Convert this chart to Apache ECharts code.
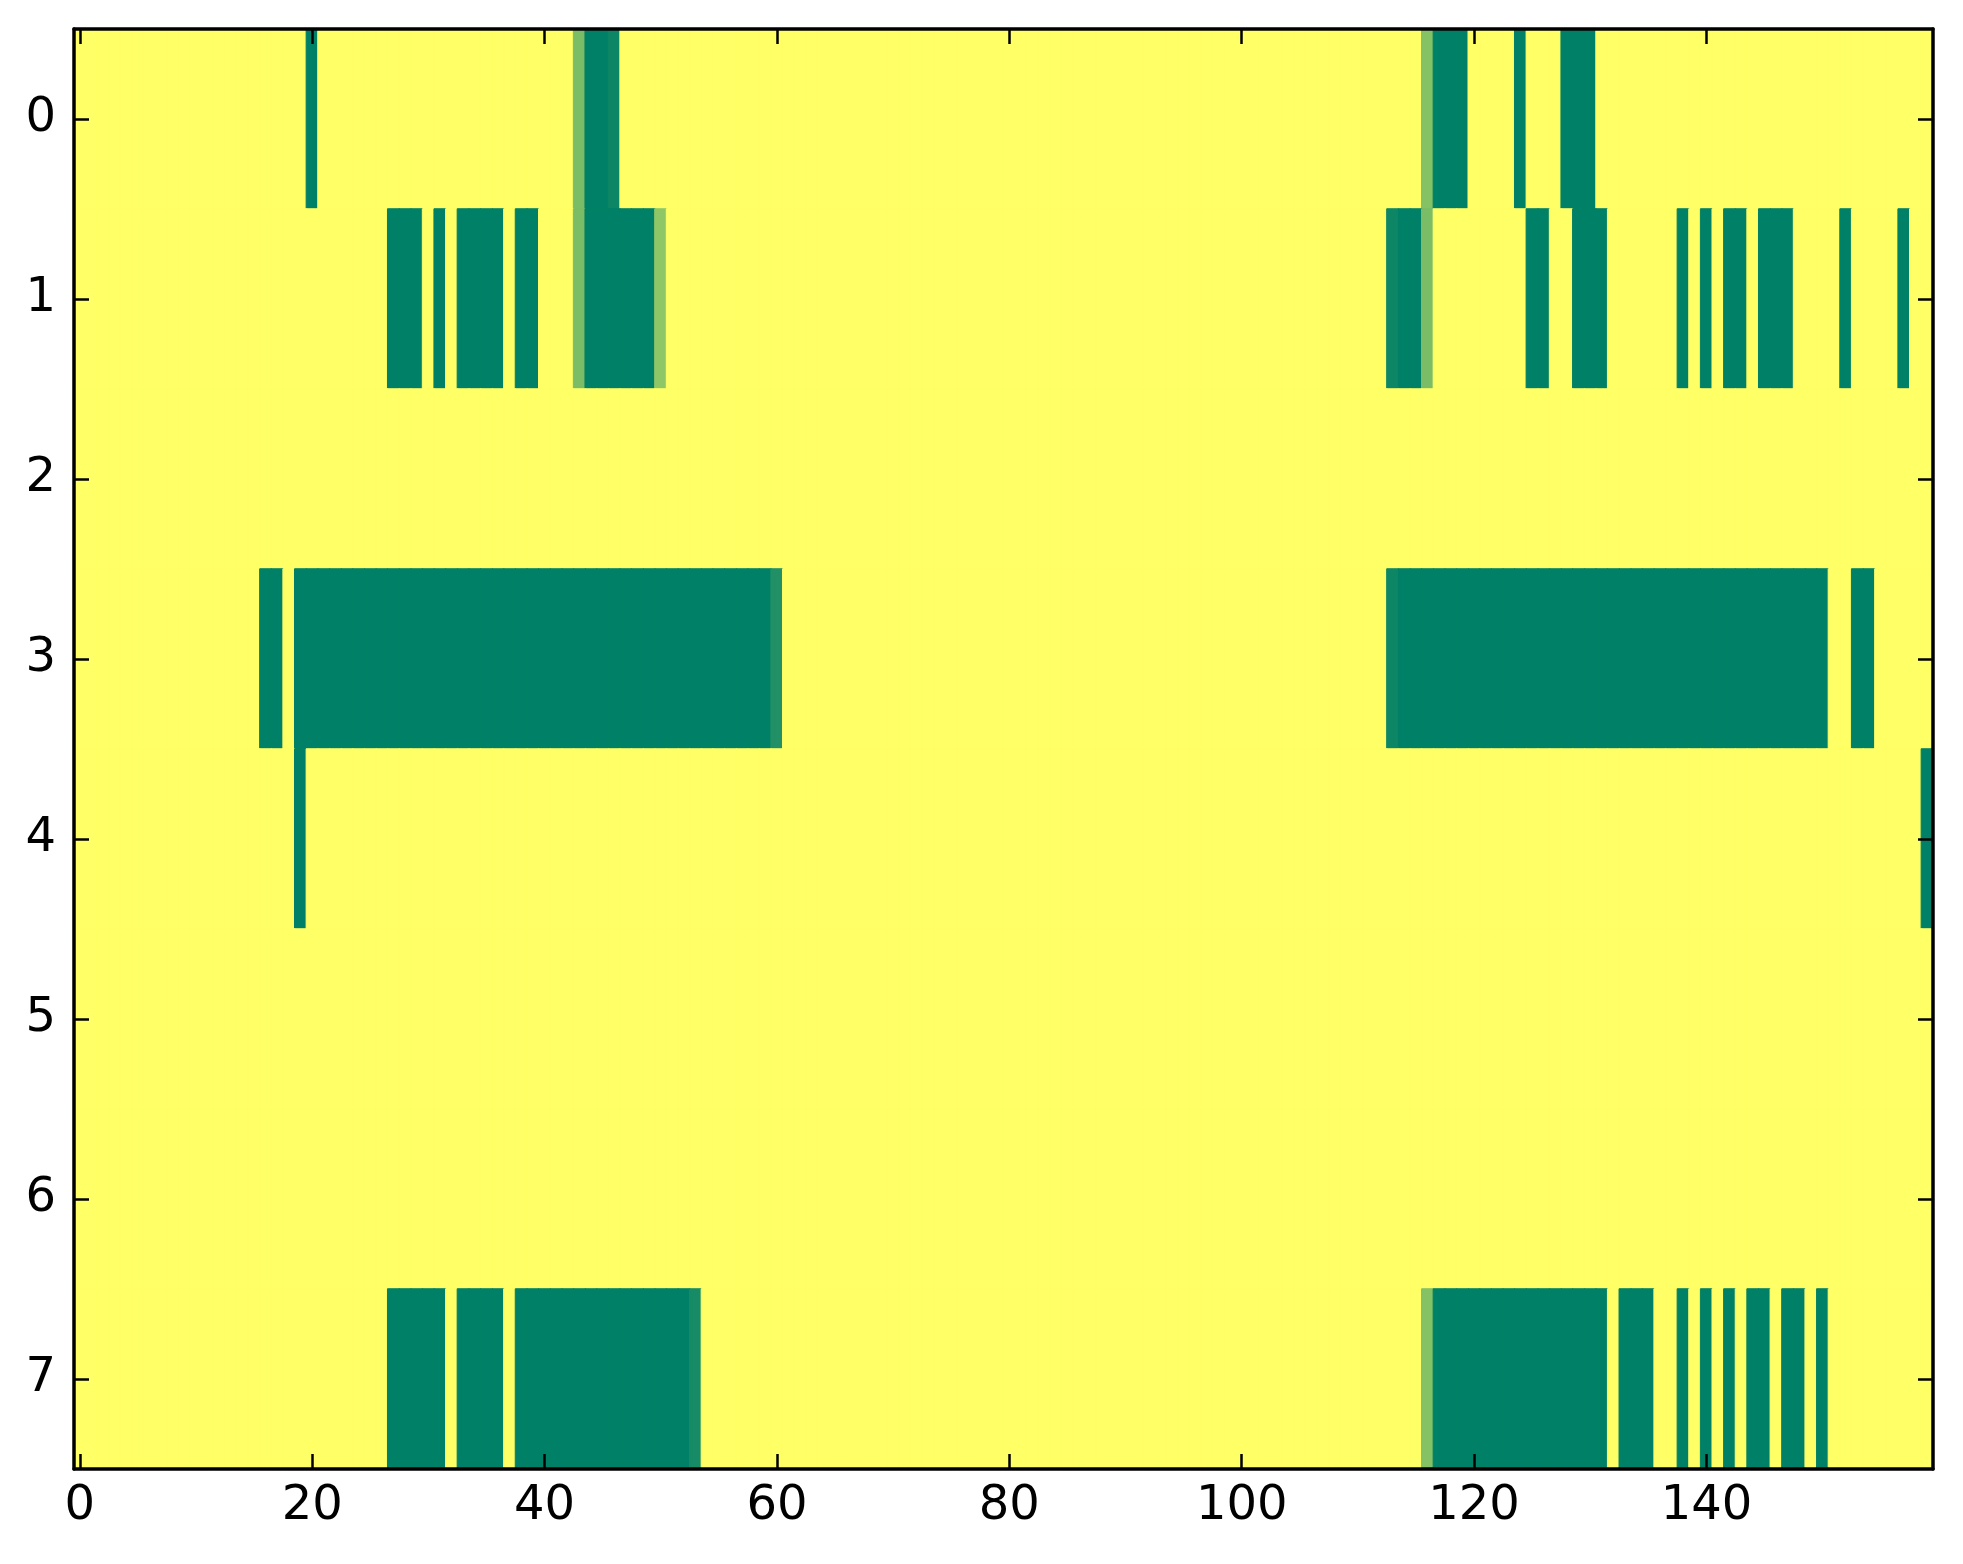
<!DOCTYPE html>
<html>
<head>
<meta charset="utf-8">
<title>heatmap</title>
<script src="https://cdn.jsdelivr.net/npm/echarts@6/dist/echarts.min.js"></script>
<style>
  html, body { margin: 0; padding: 0; background: #fff; }
  #main { width: 1963px; height: 1564px; }
</style>
</head>
<body>
<div id="main"></div>
<script>
// columns 0..159, rows 0..7
var colLabels = [];
for (var i = 0; i < 160; i++) colLabels.push(String(i));
var rowLabels = ['0', '1', '2', '3', '4', '5', '6', '7'];

// cells that are not 1, per row: [firstCol, lastCol, value]
var baseValue = 1;
var row0 = [[20, 20, 0], [43, 43, 0.48], [44, 45, 0], [46, 46, 0.05], [116, 116, 0.52], [117, 119, 0], [124, 124, 0], [128, 130, 0]];
var row1 = [[27, 29, 0], [31, 31, 0], [33, 36, 0], [38, 39, 0], [43, 43, 0.48], [44, 49, 0], [50, 50, 0.56],
            [113, 113, 0.05], [114, 115, 0], [116, 116, 0.48], [125, 126, 0], [129, 131, 0], [138, 138, 0],
            [140, 140, 0], [142, 143, 0], [145, 147, 0], [152, 152, 0], [157, 157, 0]];
var row2 = [];
var row3 = [[16, 17, 0], [19, 59, 0], [60, 60, 0.13], [113, 113, 0.05], [114, 150, 0], [153, 154, 0]];
var row4 = [[19, 19, 0], [159, 159, 0]];
var row5 = [];
var row6 = [];
var row7 = [[27, 31, 0], [33, 36, 0], [38, 52, 0], [53, 53, 0.09], [116, 116, 0.52], [117, 131, 0], [133, 135, 0],
            [138, 138, 0], [140, 140, 0], [142, 142, 0], [144, 145, 0], [147, 148, 0], [150, 150, 0]];

var rows = [row0, row1, row2, row3, row4, row5, row6, row7];

// matplotlib "summer": r = v, g = 0.5 + v/2, b = 0.4
function summer(v) {
    var r = Math.round(255 * v), g = Math.round(255 * (0.5 + v / 2)), b = Math.round(255 * 0.4);
    return 'rgb(' + r + ',' + g + ',' + b + ')';
}

var cells = [];
rows.forEach(function (runs, r) {
    var vals = colLabels.map(function () { return baseValue; });
    runs.forEach(function (run) {
        for (var c = run[0]; c <= run[1]; c++) vals[c] = run[2];
    });
    vals.forEach(function (v, c) {
        var col = summer(v);
        cells.push({ value: [c, r, v], itemStyle: { color: col, borderColor: col, borderWidth: 1 } });
    });
});

var font = 'DejaVu Sans';
var every20 = function (idx) { return idx % 20 === 0; };
var everyOne = function () { return true; };

function xAx(pos, showLabel) {
    return {
        type: 'category', data: colLabels, position: pos, boundaryGap: true, z: 10,
        axisLine: { show: true, onZero: false, lineStyle: { color: '#000', width: 3.5 } },
        axisTick: { show: true, inside: true, alignWithLabel: true, interval: every20, length: 15, lineStyle: { color: '#000', width: 2.5 } },
        axisLabel: { show: showLabel, interval: every20, margin: 14, fontFamily: font, fontSize: 48, color: '#000' },
        splitLine: { show: false }
    };
}
function yAx(pos, showLabel) {
    return {
        type: 'category', data: rowLabels, position: pos, inverse: true, boundaryGap: true, z: 10,
        axisLine: { show: true, onZero: false, lineStyle: { color: '#000', width: 3.5 } },
        axisTick: { show: true, inside: true, alignWithLabel: true, interval: everyOne, length: 15, lineStyle: { color: '#000', width: 2.5 } },
        axisLabel: { show: showLabel, interval: 0, margin: 18, fontFamily: font, fontSize: 48, color: '#000' },
        splitLine: { show: false }
    };
}

var chart = echarts.init(document.getElementById('main'));
chart.setOption({
    animation: false,
    backgroundColor: '#fff',
    grid: { left: 74, right: 30, top: 29, bottom: 95, show: true, backgroundColor: '#ffff66', borderWidth: 0 },
    xAxis: [xAx('bottom', true), xAx('top', false)],
    yAxis: [yAx('left', true), yAx('right', false)],
    series: [{
        type: 'heatmap', xAxisIndex: 0, yAxisIndex: 0,
        data: cells,
        emphasis: { disabled: true }
    }]
});
</script>
</body>
</html>
